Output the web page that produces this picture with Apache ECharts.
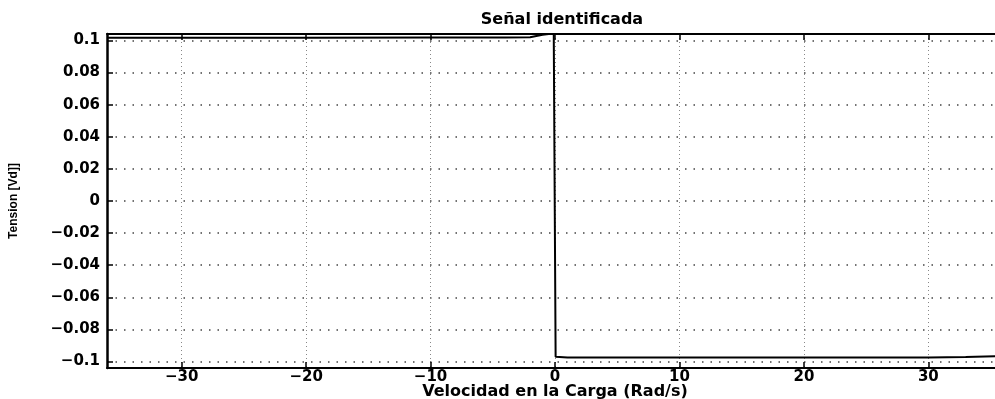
<!DOCTYPE html>
<html>
<head>
<meta charset="utf-8">
<script src="https://cdn.jsdelivr.net/npm/echarts@6/dist/echarts.min.js"></script>
<style>
  html, body { margin: 0; padding: 0; background: #fff; }
  #chart { width: 995px; height: 399px; }
</style>
</head>
<body>
<div id="chart"></div>
<script>
// datos
const velocidad = [-36, -30, -20, -10, -4, -2, -1, -0.5, -0.1, 0.05, 1, 10, 20, 30, 33, 36];
const tension = [0.1016, 0.1016, 0.1017, 0.1018, 0.1018, 0.102, 0.1035, 0.104, 0.1042, -0.097, -0.0975, -0.0975, -0.0975, -0.0975, -0.0972, -0.0965];
const xTicks = [-30, -20, -10, 0, 10, 20, 30];
const yTicks = [-0.1, -0.08, -0.06, -0.04, -0.02, 0, 0.02, 0.04, 0.06, 0.08, 0.1];

const chart = echarts.init(document.getElementById('chart'));
const minus = (v) => String(v).replace('-', '\u2212');
const labelFont = { fontFamily: 'DejaVu Sans', fontWeight: 'bold', fontSize: 15, color: '#000' };

const option = {
  animation: false,
  backgroundColor: '#fff',
  title: {
    text: 'Señal identificada',
    left: 557,
    top: 7,
    textAlign: 'center',
    textStyle: { fontFamily: 'DejaVu Sans', fontWeight: 'bold', fontSize: 16, color: '#000' },
  },
  grid: { left: 107, right: -8, top: 34, bottom: 31, outerBoundsMode: 'none', containLabel: false },
  xAxis: [
    {
      type: 'value',
      min: -36,
      max: 36,
      name: 'Velocidad en la Carga (Rad/s)',
      nameLocation: 'middle',
      nameGap: 16,
      nameMoveOverlap: false,
      nameTextStyle: { fontFamily: 'DejaVu Sans', fontWeight: 'bold', fontSize: 16, color: '#000' },
      axisLine: { show: true, onZero: false, lineStyle: { color: '#000', width: 2 } },
      axisTick: { show: true, inside: true, length: 6, customValues: xTicks, lineStyle: { color: '#000', width: 1.5 } },
      axisLabel: { customValues: xTicks, margin: 2, formatter: minus, ...labelFont },
      splitLine: { show: true, lineStyle: { color: '#888', type: [1, 3], width: 1 } },
    },
    {
      type: 'value',
      position: 'top',
      min: -36,
      max: 36,
      axisLine: { show: true, onZero: false, lineStyle: { color: '#000', width: 2 } },
      axisTick: { show: true, inside: true, length: 6, customValues: xTicks, lineStyle: { color: '#000', width: 1.5 } },
      axisLabel: { show: false },
      splitLine: { show: false },
    },
  ],
  yAxis: {
    type: 'value',
    min: -0.104,
    max: 0.104,
    name: 'Tension [Vd]]',
    nameLocation: 'middle',
    nameGap: 87,
    nameMoveOverlap: false,
    nameTextStyle: { fontFamily: 'Liberation Sans', fontWeight: 'bold', fontSize: 12, color: '#000' },
    axisLine: { show: true, onZero: false, lineStyle: { color: '#000', width: 2.5 } },
    axisTick: { show: true, inside: true, length: 6, customValues: yTicks, lineStyle: { color: '#000', width: 1.5 } },
    axisLabel: { customValues: yTicks, margin: 7, formatter: minus, ...labelFont },
    splitLine: { show: true, lineStyle: { color: '#444', type: [1.5, 7], width: 1.5 } },
  },
  series: [
    {
      type: 'line',
      data: velocidad.map((v, i) => [v, tension[i]]),
      showSymbol: false,
      lineStyle: { color: '#000', width: 2 },
    },
  ],
};

chart.setOption(option);
</script>
</body>
</html>
